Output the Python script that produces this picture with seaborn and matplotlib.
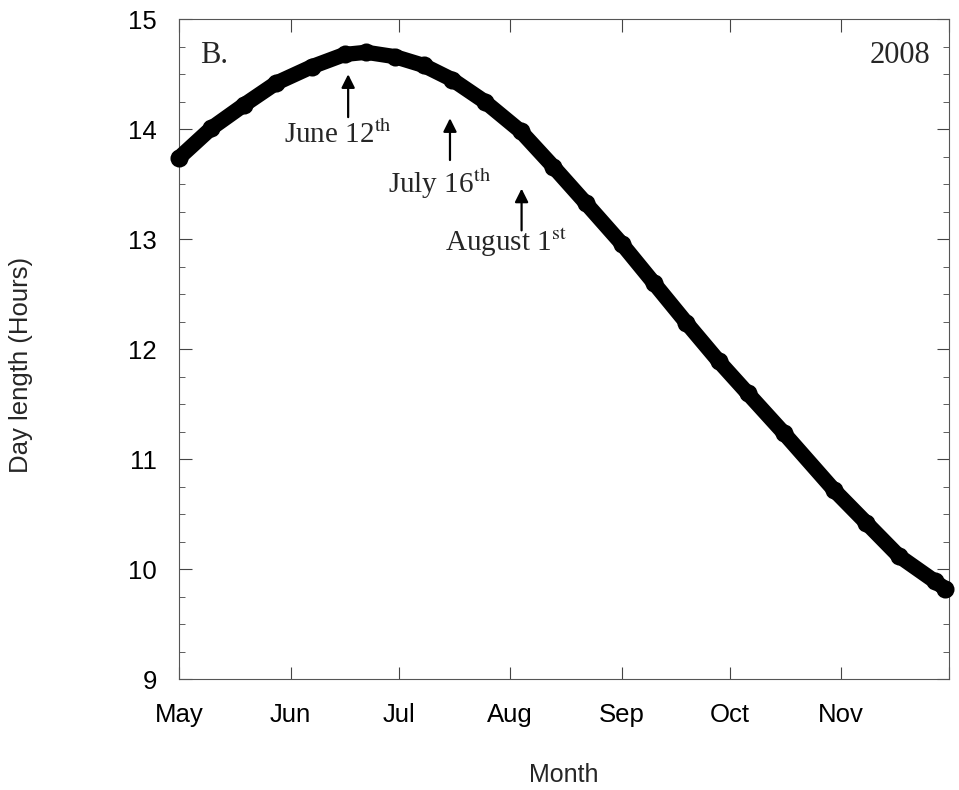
import numpy as np
import pandas as pd
import matplotlib
matplotlib.use("Agg")
import matplotlib.pyplot as plt
import matplotlib.dates as mdates
from matplotlib.ticker import MultipleLocator
import seaborn as sns

# day length (2008)
dates = ["2008-05-01", "2008-05-10", "2008-05-19", "2008-05-28", "2008-06-07",
         "2008-06-16", "2008-06-22", "2008-06-30", "2008-07-08", "2008-07-16",
         "2008-07-25", "2008-08-04", "2008-08-13", "2008-08-22", "2008-09-01",
         "2008-09-10", "2008-09-19", "2008-09-28", "2008-10-06", "2008-10-16",
         "2008-10-30", "2008-11-08", "2008-11-17", "2008-11-27", "2008-11-30"]
hours = [13.74, 14.01, 14.22, 14.42, 14.57,
         14.68, 14.70, 14.66, 14.58, 14.45,
         14.25, 13.98, 13.66, 13.33, 12.96,
         12.60, 12.24, 11.89, 11.60, 11.24,
         10.72, 10.42, 10.12, 9.89, 9.82]
month_labels = ["May", "Jun", "Jul", "Aug", "Sep", "Oct", "Nov", ""]

df = pd.DataFrame({"date": pd.to_datetime(dates), "hours": hours})

sns.set_style("ticks")
plt.rcParams["font.family"] = ["Liberation Sans", "DejaVu Sans"]
plt.rcParams["mathtext.fontset"] = "stix"

fig = plt.figure(figsize=(9.59, 7.90), dpi=100)
ax = fig.add_axes([0.1867, 0.1405, 0.8029, 0.8351])

sns.lineplot(data=df, x="date", y="hours", ax=ax, color="black",
             linewidth=11, marker="o", markersize=13, markeredgewidth=0,
             solid_capstyle="round", clip_on=False, zorder=3)

start = pd.Timestamp("2008-05-01")
ax.set_xlim(start, pd.Timestamp("2008-12-01"))
ax.set_ylim(9, 15)

ax.xaxis.set_major_locator(mdates.MonthLocator())
ax.set_xticks(ax.get_xticks())
ax.set_xticklabels(month_labels)
ax.yaxis.set_major_locator(MultipleLocator(1))
ax.yaxis.set_minor_locator(MultipleLocator(0.25))

ax.tick_params(axis="both", which="both", direction="in", top=True, right=True,
               colors="#444444", labelcolor="black", labelsize=18.5)
ax.tick_params(axis="both", which="major", length=9, width=0.8)
ax.tick_params(axis="y", which="minor", length=4, width=0.6)
ax.tick_params(axis="x", which="major", pad=17)
ax.tick_params(axis="y", which="major", pad=16)

for s in ax.spines.values():
    s.set_color("#555555")
    s.set_linewidth(0.8)

ax.set_xlabel("Month", fontsize=18)
ax.set_ylabel("Day length (Hours)", fontsize=18.5)
ax.xaxis.set_label_coords(0.5, -0.128)
ax.yaxis.set_label_coords(-0.19, 0.476)

serif = ["Liberation Serif", "DejaVu Serif"]
d = lambda n: start + pd.Timedelta(days=n)

ax.text(d(5.8), 14.6, "B.", fontsize=22, family=serif)
ax.text(d(208.7), 14.6, "2008", fontsize=22, family=serif, ha="right")

notes = [("June 12$^{\\mathrm{th}}$", 29.2, 13.875, 47.0, 14.11, 14.50),
         ("July 16$^{\\mathrm{th}}$", 58.1, 13.42, 75.3, 13.72, 14.10),
         ("August 1$^{\\mathrm{st}}$", 73.9, 12.89, 95.2, 13.08, 13.46)]
for txt, tx, ty, ax_d, y0, y1 in notes:
    ax.text(d(tx), ty, txt, fontsize=21, family=serif)
    ax.annotate("", xy=(d(ax_d), y1), xytext=(d(ax_d), y0),
                arrowprops=dict(arrowstyle="-|>", color="black", lw=1.6,
                                mutation_scale=20, shrinkA=0, shrinkB=0))

fig.savefig("out.png", dpi=100)
